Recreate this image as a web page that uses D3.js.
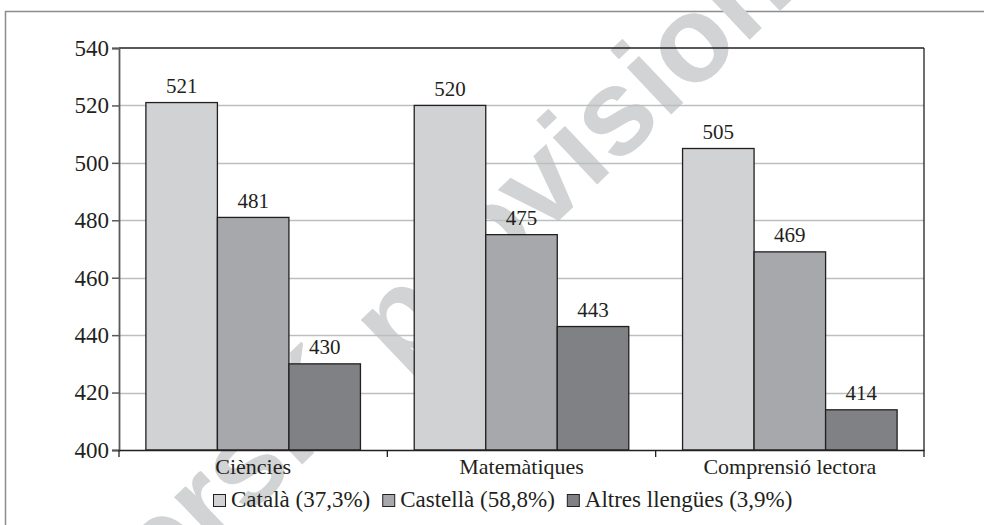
<!DOCTYPE html>
<html>
<head>
<meta charset="utf-8">
<script src="https://cdn.jsdelivr.net/npm/d3@7"></script>
<style>
  html, body { margin: 0; padding: 0; background: #fff; }
  svg { display: block; }
  text { font-family: "Liberation Serif", "Times New Roman", serif; fill: #231f20; }
</style>
</head>
<body>
<svg id="chart" width="984" height="525"></svg>
<script>
const categories = ["Ciències", "Matemàtiques", "Comprensió lectora"];
const seriesNames = ["Català (37,3%)", "Castellà (58,8%)", "Altres llengües (3,9%)"];
const catala = [521, 520, 505];
const castella = [481, 475, 469];
const altres = [430, 443, 414];
const yTicks = [400, 420, 440, 460, 480, 500, 520, 540];
const seriesColors = ["#d1d2d4", "#a7a8ab", "#808184"];
const watermarkText = "versió provisional";

const seriesValues = [catala, castella, altres];
const svg = d3.select("#chart");

const x0 = 119, x1 = 924, yTop = 48, yBot = 450;

// outer frame (top and left edges)
svg.append("line").attr("x1", 5).attr("x2", 984).attr("y1", 11.5).attr("y2", 11.5)
  .attr("stroke", "#8c8c8c").attr("stroke-width", 1.5);
svg.append("line").attr("x1", 5.5).attr("x2", 5.5).attr("y1", 11).attr("y2", 525)
  .attr("stroke", "#8c8c8c").attr("stroke-width", 1.5);

// watermark
svg.append("text")
  .attr("transform", "translate(114,643) rotate(-43.5)")
  .style("font-family", "'Liberation Sans', Arial, sans-serif")
  .style("font-weight", "bold")
  .style("font-size", "122px")
  .style("fill", "#d1d3d4")
  .text(watermarkText);

const y = d3.scaleLinear().domain([400, 540]).range([yBot, yTop]);
const xCat = d3.scaleBand().domain(categories).range([x0, x1]).paddingInner(0).paddingOuter(0);
const xSer = d3.scaleBand().domain(d3.range(seriesNames.length)).range([0, xCat.bandwidth()])
  .paddingInner(0).paddingOuter(0.376);

// gridlines
svg.append("g").selectAll("line").data(yTicks.filter(t => t > 400 && t < 540)).join("line")
  .attr("x1", x0).attr("x2", x1)
  .attr("y1", d => Math.round(y(d)) + 0.5).attr("y2", d => Math.round(y(d)) + 0.5)
  .attr("stroke", "#bdbec0").attr("stroke-width", 1.3);

// bars
const groups = svg.append("g").selectAll("g").data(categories).join("g")
  .attr("transform", c => `translate(${xCat(c)},0)`);
groups.each(function(c, ci) {
  const g = d3.select(this);
  seriesValues.forEach((vals, si) => {
    const v = vals[ci];
    g.append("rect")
      .attr("x", xSer(si)).attr("width", xSer.bandwidth())
      .attr("y", y(v)).attr("height", y(400) - y(v))
      .attr("fill", seriesColors[si]).attr("stroke", "#231f20").attr("stroke-width", 1.3);
    g.append("text")
      .attr("x", xSer(si) + xSer.bandwidth() / 2).attr("y", y(v) - 9.5)
      .attr("text-anchor", "middle").style("font-size", "21px")
      .text(v);
  });
});

// plot border top & right
svg.append("line").attr("x1", x0).attr("x2", x1).attr("y1", yTop).attr("y2", yTop)
  .attr("stroke", "#231f20").attr("stroke-width", 1.5);
svg.append("line").attr("x1", x1).attr("x2", x1).attr("y1", yTop).attr("y2", yBot)
  .attr("stroke", "#231f20").attr("stroke-width", 1.3);

// y axis
const yAxis = d3.axisLeft(y).tickValues(yTicks).tickSize(7).tickPadding(3).tickFormat(d3.format("d"));
const gy = svg.append("g").attr("transform", `translate(${x0},0)`).call(yAxis);
gy.attr("font-family", null);
gy.select(".domain").attr("stroke", "#58595b").attr("stroke-width", 1.8);
gy.selectAll(".tick line").attr("stroke", "#58595b").attr("stroke-width", 1.5);
gy.selectAll(".tick text").style("font-size", "23px")
  .style("font-family", "'Liberation Serif', serif").attr("fill", "#231f20");

// x axis
const xAxis = d3.axisBottom(xCat).tickSize(0).tickPadding(8);
const gx = svg.append("g").attr("transform", `translate(0,${yBot})`).call(xAxis);
gx.attr("font-family", null);
gx.select(".domain").attr("stroke", "#231f20").attr("stroke-width", 1.5);
gx.selectAll(".tick text").style("font-size", "22px")
  .style("font-family", "'Liberation Serif', serif").attr("fill", "#231f20");
// category separator ticks
const sepPositions = categories.map(c => xCat(c)).concat([xCat(categories[categories.length - 1]) + xCat.bandwidth()]);
svg.append("g").selectAll("line").data(sepPositions).join("line")
  .attr("x1", d => d).attr("x2", d => d).attr("y1", yBot).attr("y2", yBot + 7)
  .attr("stroke", "#231f20").attr("stroke-width", 1.3);

// legend
const legend = svg.append("g");
let cx = 0;
seriesNames.forEach((name, i) => {
  const it = legend.append("g");
  it.append("rect").attr("x", 0.5).attr("y", -12.5).attr("width", 12).attr("height", 12)
    .attr("fill", seriesColors[i]).attr("stroke", "#231f20").attr("stroke-width", 1);
  const t = it.append("text").attr("x", 18).attr("y", 0).style("font-size", "23px").text(name);
  const w = 18 + t.node().getComputedTextLength();
  it.attr("transform", `translate(${cx},0)`);
  cx += w + 12;
});
legend.attr("transform", `translate(213,507)`);
</script>
</body>
</html>
